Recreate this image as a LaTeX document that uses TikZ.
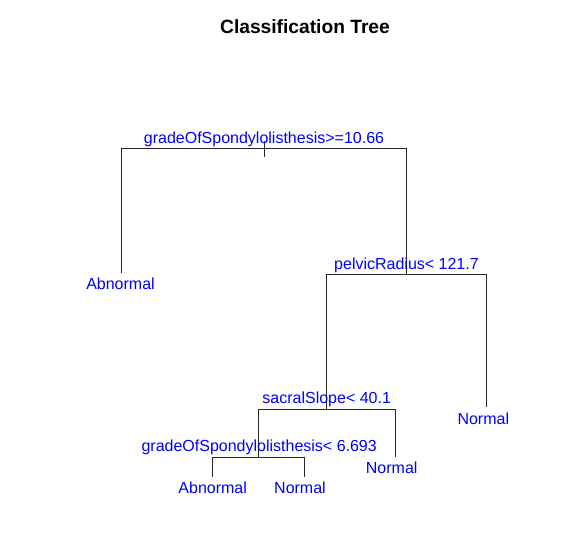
\documentclass[tikz,border=0pt]{standalone}
\usepackage{fontspec}
\setmainfont{Liberation Sans}
\begin{document}
\begin{tikzpicture}[x=1pt,y=-1pt,
  lbl/.style={text=blue,font=\fontsize{16}{18}\selectfont,anchor=base,inner sep=0pt},
  ttl/.style={font=\fontsize{19.2}{22}\selectfont\bfseries,anchor=base,inner sep=0pt},
  br/.style={draw=black!85,line width=0.9pt}]
\useasboundingbox[fill=white] (0,0) rectangle (567,542);
% structure coordinates
\coordinate (rt) at (264,141);
\coordinate (rb) at (264,157);
\coordinate (rl) at (121.7,148);
\coordinate (rr) at (406.7,148);
\coordinate (leafA) at (121.7,273.3);
\coordinate (pc) at (406.7,274);
\coordinate (pl) at (326.7,274);
\coordinate (pr) at (486.7,274);
\coordinate (leafN1) at (486.7,406.7);
\coordinate (sc) at (326.7,409);
\coordinate (sl) at (258.3,409);
\coordinate (sr) at (395,409);
\coordinate (leafN2) at (395,457);
\coordinate (gc) at (258.3,457);
\coordinate (gl) at (212.7,457);
\coordinate (gr) at (304,457);
\coordinate (leafA2) at (212.7,476.7);
\coordinate (leafN3) at (304,476.7);
% branches
\draw[br] (rt) -- (rb);
\draw[br] (leafA) -- (rl) -- (rr) -- (pc);
\draw[br] (sc) -- (pl) -- (pr) -- (leafN1);
\draw[br] (gc) -- (sl) -- (sr) -- (leafN2);
\draw[br] (leafA2) -- (gl) -- (gr) -- (leafN3);
% texts
\node[ttl] (title) at (305,33.3) {Classification Tree};
\node[lbl] (s1) at (264,143.5) {gradeOfSpondylolisthesis>=10.66};
\node[lbl] (s2) at (406.5,269.3) {pelvicRadius< 121.7};
\node[lbl] (s3) at (326.7,403.7) {sacralSlope< 40.1};
\node[lbl] (s4) at (259.2,451.7) {gradeOfSpondylolisthesis< 6.693};
\node[lbl] (l1) at (120.5,289.5) {Abnormal};
\node[lbl] (l2) at (483.3,424.5) {Normal};
\node[lbl] (l3) at (391.7,473.5) {Normal};
\node[lbl] (l4) at (212.7,493) {Abnormal};
\node[lbl] (l5) at (300,493) {Normal};
\end{tikzpicture}
\end{document}
